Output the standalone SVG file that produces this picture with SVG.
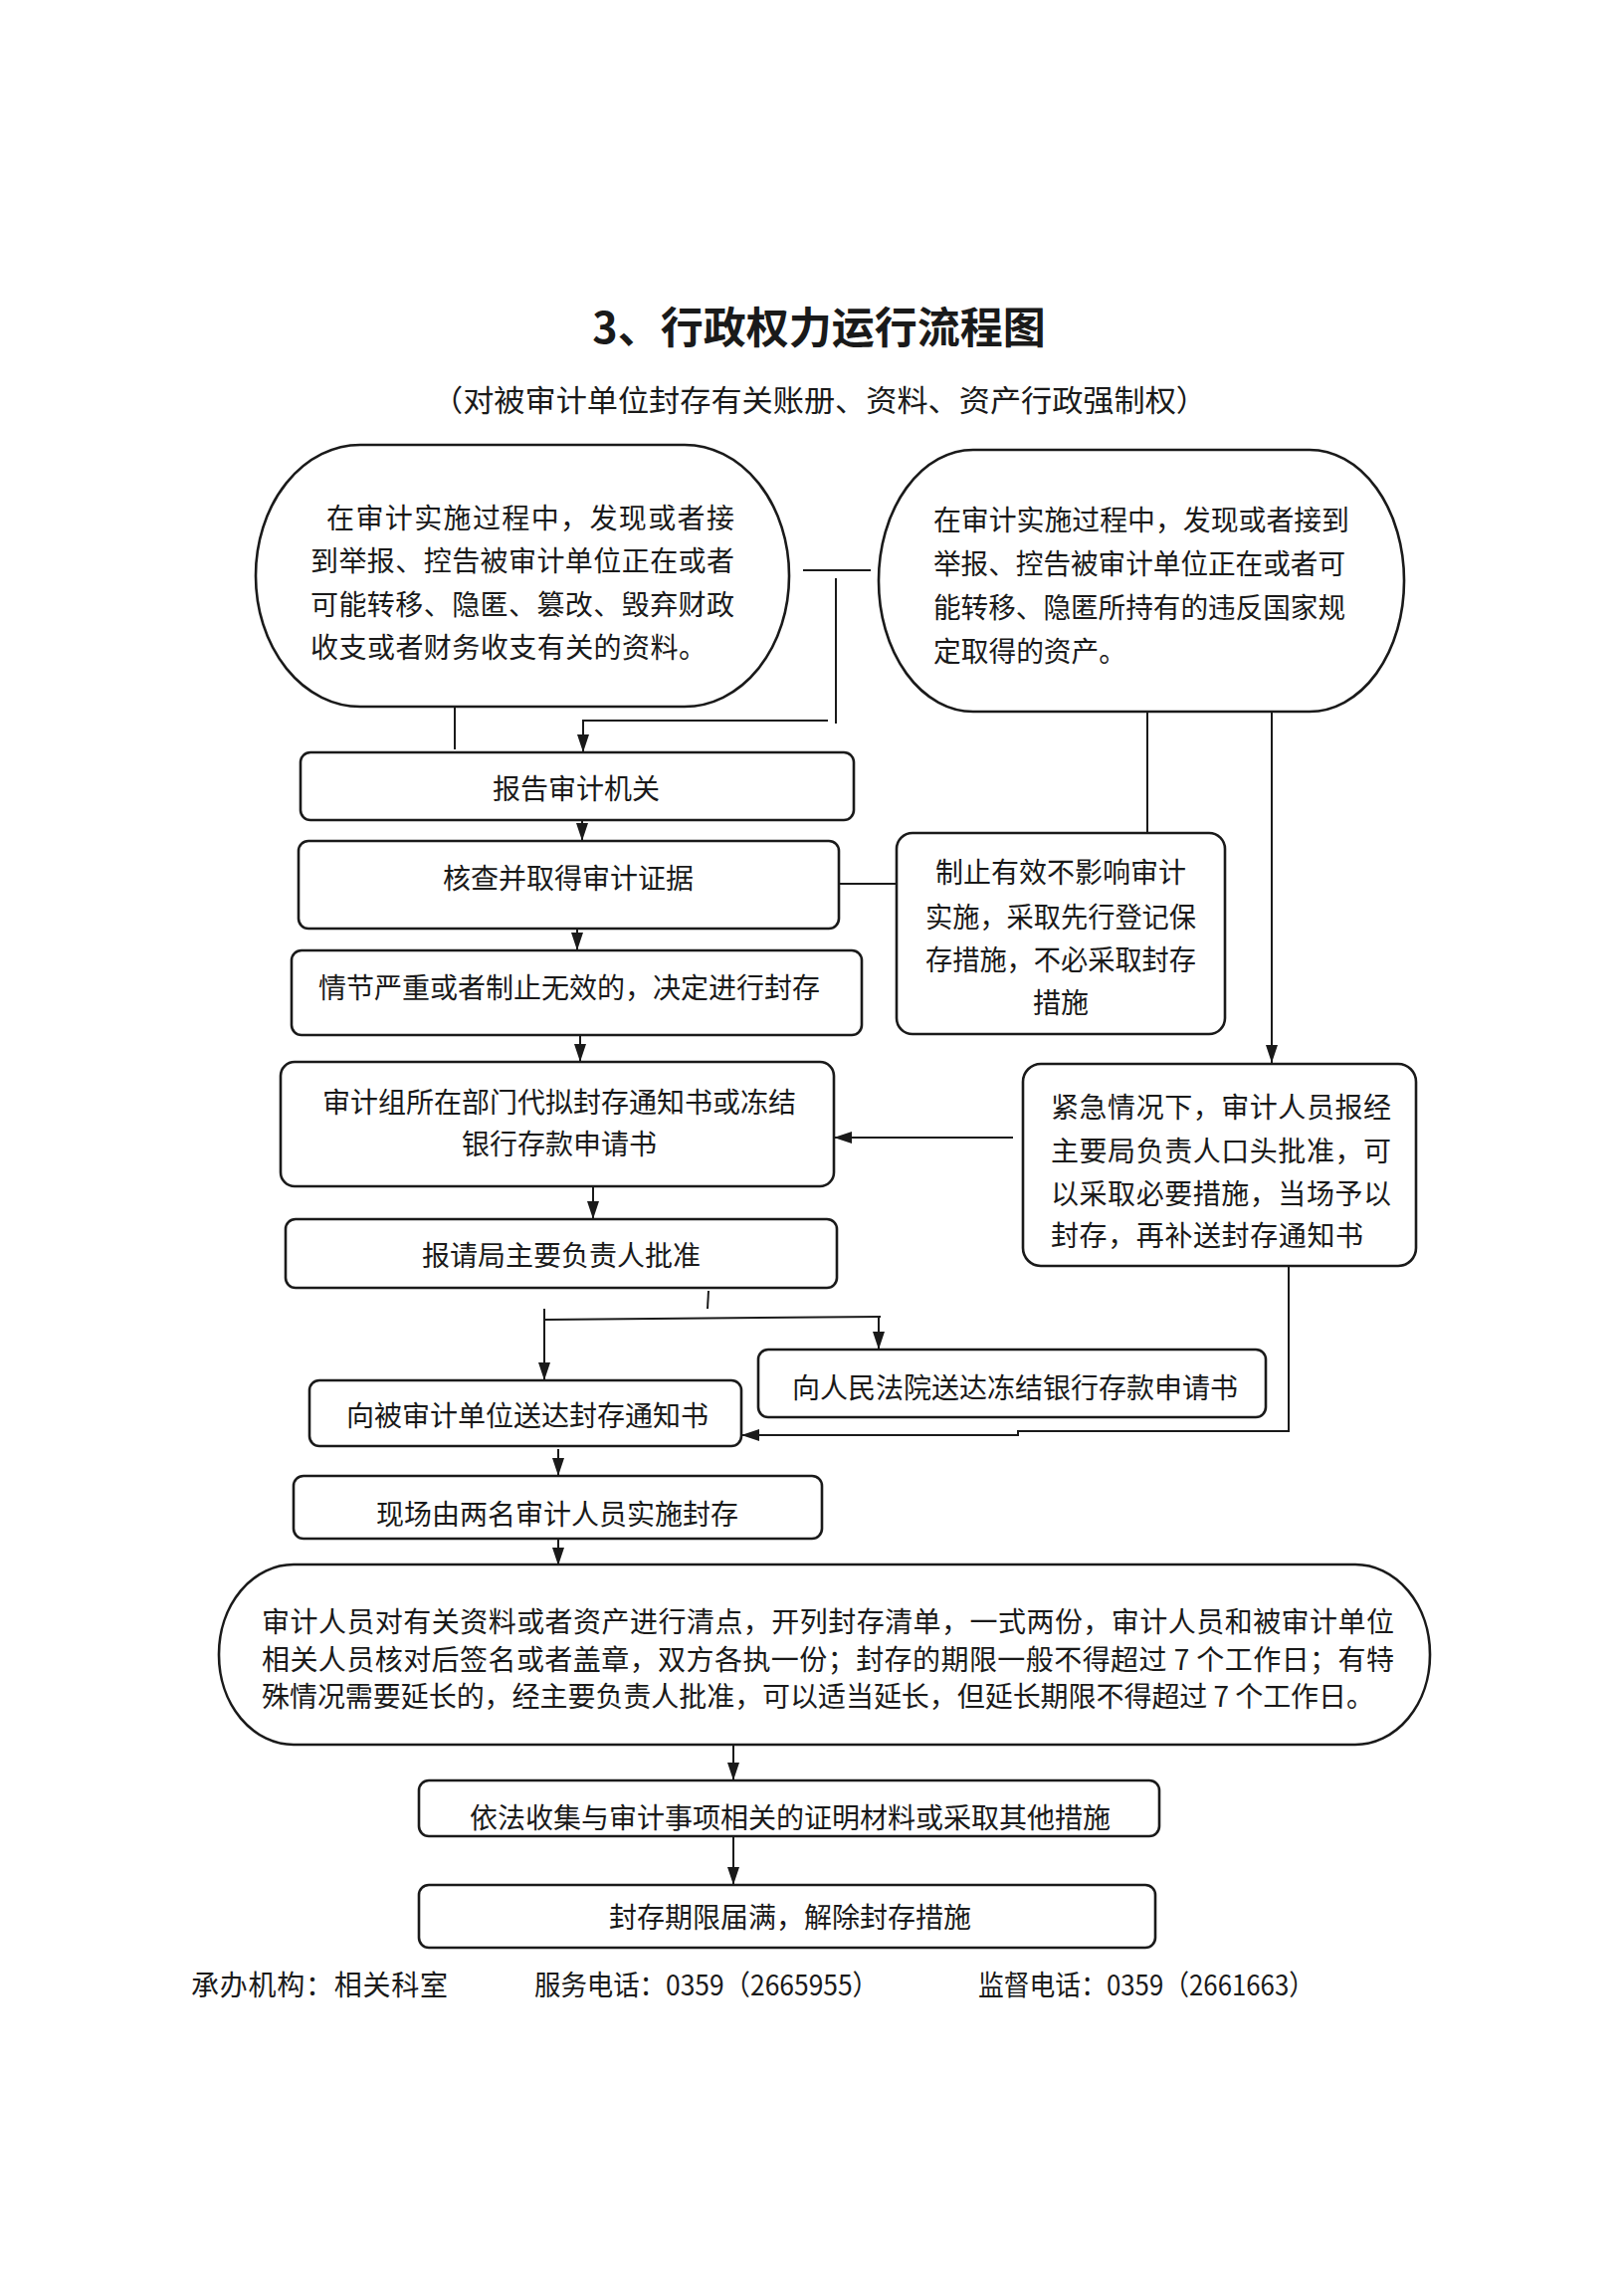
<svg xmlns="http://www.w3.org/2000/svg" width="1632" height="2304" viewBox="0 0 1632 2304">
<style>
.box{fill:#fff;stroke:#1a1a1a;stroke-width:2.6}
.ln{fill:none;stroke:#1a1a1a;stroke-width:2}
.t{font-family:"Noto Sans CJK SC","Noto Sans CJK TC",sans-serif;font-size:28px;fill:#1a1a1a}
.c{text-anchor:middle}
</style>
<defs>
<marker id="ar" markerUnits="userSpaceOnUse" markerWidth="18" markerHeight="12" refX="18" refY="6" orient="auto">
<path d="M0,0 L18,6 L0,12 z" fill="#1a1a1a"/>
</marker>
</defs>
<rect x="0" y="0" width="1632" height="2304" fill="#fff"/>
<text x="823" y="345" class="t c" style="font-size:43px;font-weight:bold">3、行政权力运行流程图</text>
<text x="434" y="413" class="t" style="font-size:30px" textLength="779" lengthAdjust="spacingAndGlyphs">（对被审计单位封存有关账册、资料、资产行政强制权）</text>

<g id="connectors">
<path class="ln" d="M807,573 H875"/>
<path class="ln" d="M840,581 V727"/>
<path class="ln" d="M832,724 H586 V756" marker-end="url(#ar)"/>
<path class="ln" d="M457,710 V753"/>
<path class="ln" d="M1153,715 V837"/>
<path class="ln" d="M1278,715 V1068" marker-end="url(#ar)"/>
<path class="ln" d="M585,824 V845" marker-end="url(#ar)"/>
<path class="ln" d="M843,888 H901"/>
<path class="ln" d="M580,933 V955" marker-end="url(#ar)"/>
<path class="ln" d="M583,1040 V1067" marker-end="url(#ar)"/>
<path class="ln" d="M1018,1143 H838" marker-end="url(#ar)"/>
<path class="ln" d="M596,1192 V1225" marker-end="url(#ar)"/>
<path class="ln" d="M712,1297 L711,1315"/>
<path class="ln" d="M547,1326 L885,1323"/>
<path class="ln" d="M547,1315 V1387" marker-end="url(#ar)"/>
<path class="ln" d="M883,1323 V1356" marker-end="url(#ar)"/>
<path class="ln" d="M1295,1272 V1438 H1023 V1442 H745" marker-end="url(#ar)"/>
<path class="ln" d="M561,1456 V1483" marker-end="url(#ar)"/>
<path class="ln" d="M561,1546 V1573" marker-end="url(#ar)"/>
<path class="ln" d="M737,1753 V1789" marker-end="url(#ar)"/>
<path class="ln" d="M737,1845 V1894" marker-end="url(#ar)"/>
</g>

<g id="n1">
<rect class="box" x="257" y="447" width="536" height="263" rx="105" ry="131"/>
<text class="t" x="328" y="531" textLength="410" lengthAdjust="spacing">在审计实施过程中，发现或者接</text>
<text class="t" x="312" y="574" textLength="426" lengthAdjust="spacing">到举报、控告被审计单位正在或者</text>
<text class="t" x="312" y="618" textLength="426" lengthAdjust="spacing">可能转移、隐匿、篡改、毁弃财政</text>
<text class="t" x="312" y="661" textLength="398" lengthAdjust="spacing">收支或者财务收支有关的资料。</text>
</g>
<g id="n2">
<rect class="box" x="883" y="452" width="528" height="263" rx="95" ry="131"/>
<text class="t" x="938" y="533" textLength="418" lengthAdjust="spacingAndGlyphs">在审计实施过程中，发现或者接到</text>
<text class="t" x="938" y="577" textLength="414" lengthAdjust="spacingAndGlyphs">举报、控告被审计单位正在或者可</text>
<text class="t" x="938" y="621" textLength="414" lengthAdjust="spacingAndGlyphs">能转移、隐匿所持有的违反国家规</text>
<text class="t" x="938" y="665" textLength="194" lengthAdjust="spacingAndGlyphs">定取得的资产。</text>
</g>
<g id="n3">
<rect class="box" x="302" y="756" width="556" height="68" rx="10"/>
<text class="t c" x="579" y="803">报告审计机关</text>
</g>
<g id="n4">
<rect class="box" x="300" y="845" width="543" height="88" rx="10"/>
<text class="t c" x="571" y="893">核查并取得审计证据</text>
</g>
<g id="n5">
<rect class="box" x="901" y="837" width="330" height="202" rx="16"/>
<text class="t c" x="1066" y="887">制止有效不影响审计</text>
<text class="t c" x="1066" y="932" textLength="272" lengthAdjust="spacingAndGlyphs">实施，采取先行登记保</text>
<text class="t c" x="1066" y="975" textLength="272" lengthAdjust="spacingAndGlyphs">存措施，不必采取封存</text>
<text class="t c" x="1066" y="1018">措施</text>
</g>
<g id="n6">
<rect class="box" x="293" y="955" width="573" height="85" rx="10"/>
<text class="t c" x="572" y="1003">情节严重或者制止无效的，决定进行封存</text>
</g>
<g id="n7">
<rect class="box" x="282" y="1067" width="556" height="125" rx="14"/>
<text class="t c" x="562" y="1118">审计组所在部门代拟封存通知书或冻结</text>
<text class="t c" x="562" y="1160">银行存款申请书</text>
</g>
<g id="n8">
<rect class="box" x="1028" y="1069" width="395" height="203" rx="18"/>
<text class="t" x="1056" y="1123" textLength="342" lengthAdjust="spacing">紧急情况下，审计人员报经</text>
<text class="t" x="1056" y="1167" textLength="342" lengthAdjust="spacing">主要局负责人口头批准，可</text>
<text class="t" x="1056" y="1210" textLength="342" lengthAdjust="spacing">以采取必要措施，当场予以</text>
<text class="t" x="1056" y="1252" textLength="314" lengthAdjust="spacing">封存，再补送封存通知书</text>
</g>
<g id="n9">
<rect class="box" x="287" y="1225" width="554" height="69" rx="10"/>
<text class="t c" x="564" y="1272">报请局主要负责人批准</text>
</g>
<g id="n10">
<rect class="box" x="762" y="1356" width="510" height="68" rx="10"/>
<text class="t c" x="1020" y="1405">向人民法院送达冻结银行存款申请书</text>
</g>
<g id="n11">
<rect class="box" x="311" y="1387" width="434" height="66" rx="10"/>
<text class="t c" x="530" y="1433">向被审计单位送达封存通知书</text>
</g>
<g id="n12">
<rect class="box" x="295" y="1483" width="531" height="63" rx="10"/>
<text class="t c" x="560" y="1532">现场由两名审计人员实施封存</text>
</g>
<g id="n13">
<rect class="box" x="220" y="1572" width="1217" height="181" rx="75" ry="90"/>
<text class="t" x="263" y="1640" textLength="1138" lengthAdjust="spacing">审计人员对有关资料或者资产进行清点，开列封存清单，一式两份，审计人员和被审计单位</text>
<text class="t" x="263" y="1678" textLength="1138" lengthAdjust="spacing">相关人员核对后签名或者盖章，双方各执一份；封存的期限一般不得超过 7 个工作日；有特</text>
<text class="t" x="263" y="1715" textLength="1118" lengthAdjust="spacing">殊情况需要延长的，经主要负责人批准，可以适当延长，但延长期限不得超过 7 个工作日。</text>
</g>
<g id="n14">
<rect class="box" x="421" y="1789" width="744" height="56" rx="10"/>
<text class="t c" x="794" y="1837">依法收集与审计事项相关的证明材料或采取其他措施</text>
</g>
<g id="n15">
<rect class="box" x="421" y="1894" width="740" height="63" rx="10"/>
<text class="t c" x="794" y="1937">封存期限届满，解除封存措施</text>
</g>
<text class="t" x="192" y="2005" textLength="258" lengthAdjust="spacing">承办机构：相关科室</text>
<text class="t" x="537" y="2005" textLength="346" lengthAdjust="spacingAndGlyphs">服务电话：0359（2665955）</text>
<text class="t" x="983" y="2005" textLength="338" lengthAdjust="spacingAndGlyphs">监督电话：0359（2661663）</text>
</svg>
